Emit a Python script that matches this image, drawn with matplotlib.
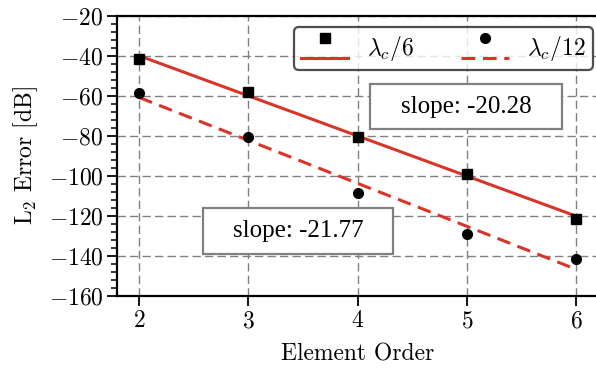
import numpy as np
import matplotlib
matplotlib.use("Agg")
import matplotlib.pyplot as plt
from matplotlib.lines import Line2D
from matplotlib.patches import Rectangle
from matplotlib.legend_handler import HandlerBase

# ---- data ----
orders = [2, 3, 4, 5, 6]
err_l6 = [-41.6, -57.8, -80.3, -99.0, -121.3]
err_l12 = [-58.7, -80.3, -108.7, -129.2, -141.7]
series_labels = [r"$\lambda_c/6$", r"$\lambda_c/12$"]
slope_texts = ["slope: -20.28", "slope: -21.77"]
xticks = [2, 3, 4, 5, 6]
yticks = [-160, -140, -120, -100, -80, -60, -40, -20]

plt.rcParams["font.family"] = "serif"
plt.rcParams["font.serif"] = ["cmr10"]
plt.rcParams["mathtext.fontset"] = "cm"
plt.rcParams["axes.formatter.use_mathtext"] = True

RED = "#d8352a"
FS = 17

fig = plt.figure(figsize=(5.96, 3.69), dpi=100)
W, H = 596, 369
L, R, T, B = 117.3, 598.3, 16, 296
ax = fig.add_axes([L / W, (H - B) / H, (R - L) / W, (B - T) / H])

x = np.array(orders, dtype=float)
fit6 = np.polyfit(x, err_l6, 1)
fit12 = np.polyfit(x, err_l12, 1)

ln6, = ax.plot(x, np.polyval(fit6, x), color=RED, lw=2.2, zorder=3)
ln12, = ax.plot(x, np.polyval(fit12, x), color=RED, lw=2.2, ls="--",
                dashes=(4.5, 2.5), zorder=3)
mk6, = ax.plot(x, err_l6, ls="none", marker="s", ms=7.5, color="black", zorder=4)
mk12, = ax.plot(x, err_l12, ls="none", marker="o", ms=7, color="black", zorder=4)

ax.set_xlim(1.8, 6.2)
ax.set_ylim(-160, -20)
ax.set_xticks(xticks)
ax.set_yticks(yticks)
ax.yaxis.set_minor_locator(matplotlib.ticker.MultipleLocator(4))
ax.tick_params(axis="both", which="major", direction="out", length=7, width=1.3,
               labelsize=FS, pad=3)
ax.tick_params(axis="y", which="minor", direction="out", length=4, width=1.1)
for s in ["left", "bottom", "top", "right"]:
    ax.spines[s].set_linewidth(1.6)
ax.set_axisbelow(True)
ax.grid(True, which="major", color="#808080", lw=1.0, ls=(0, (6, 3)))

ax.set_xlabel("Element Order", fontsize=FS, labelpad=8)
ax.set_ylabel(r"L$_2$ Error [dB]", fontsize=FS, labelpad=6)


class MarkerOverLine(HandlerBase):
    def create_artists(self, legend, orig_handle, xdescent, ydescent, width,
                       height, fontsize, trans):
        mk, ln = orig_handle
        x0 = -xdescent
        x1 = -xdescent + width
        yl = -ydescent - 0.15 * height
        ym = -ydescent + 1.05 * height
        line = Line2D([x0, x1], [yl, yl], color=ln.get_color(),
                      lw=ln.get_linewidth(), ls=ln.get_linestyle())
        if ln.get_linestyle() != "-":
            line.set_dashes((4.5, 2.5))
        marker = Line2D([(x0 + x1) / 2], [ym], marker=mk.get_marker(),
                        ms=mk.get_markersize(), color="black", ls="none")
        line.set_transform(trans)
        marker.set_transform(trans)
        return [line, marker]


leg = ax.legend([(mk6, ln6), (mk12, ln12)], series_labels,
                handler_map={tuple: MarkerOverLine()},
                loc="upper right", bbox_to_anchor=(593 / W, 1 - 27 / H),
                bbox_transform=fig.transFigure, borderaxespad=0,
                ncol=2, fontsize=FS, handlelength=2.0, handletextpad=0.8,
                columnspacing=2.0, borderpad=0.3, fancybox=True,
                framealpha=0.8, edgecolor="#222222")
leg.get_frame().set_linewidth(1.6)
leg.set_zorder(5)

# slope annotation boxes
boxes = [((370, 84, 562, 129)), ((203, 208, 393, 254))]
for txt, (bx0, by0, bx1, by1) in zip(slope_texts, boxes):
    ax0 = (bx0 - L) / (R - L)
    ay0 = (B - by1) / (B - T)
    aw = (bx1 - bx0) / (R - L)
    ah = (by1 - by0) / (B - T)
    ax.add_patch(Rectangle((ax0, ay0), aw, ah, transform=ax.transAxes,
                           facecolor="white", edgecolor="#808080", lw=1.6,
                           zorder=5))
    ax.text(ax0 + aw / 2, ay0 + ah / 2, txt, transform=ax.transAxes,
            ha="center", va="center", fontsize=18,
            family="Liberation Serif", zorder=6)

fig.savefig("out.png", dpi=100)
